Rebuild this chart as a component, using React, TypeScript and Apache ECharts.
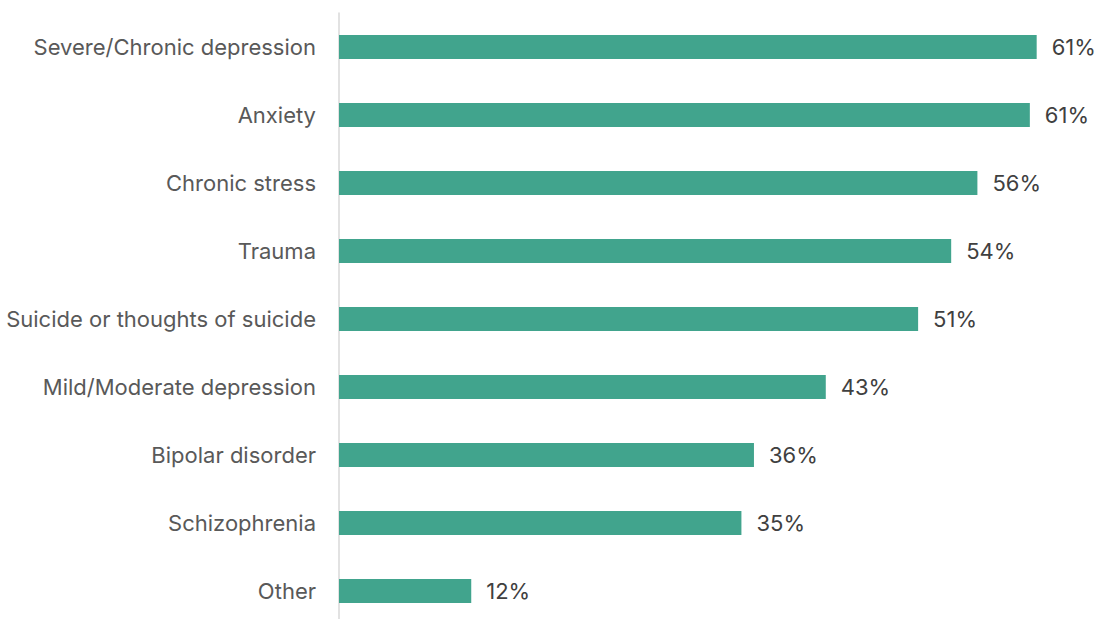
import React, { useEffect, useRef } from "react";
import * as echarts from "echarts";

const categories = [
  "Severe/Chronic depression",
  "Anxiety",
  "Chronic stress",
  "Trauma",
  "Suicide or thoughts of suicide",
  "Mild/Moderate depression",
  "Bipolar disorder",
  "Schizophrenia",
  "Other",
];
const values = [61.2, 60.6, 56.0, 53.7, 50.8, 42.7, 36.4, 35.3, 11.6];
const labels = ["61%", "61%", "56%", "54%", "51%", "43%", "36%", "35%", "12%"];

export default function App() {
  const ref = useRef<HTMLDivElement>(null);
  useEffect(() => {
    document.body.style.margin = "0";
    const chart = echarts.init(ref.current!, null, { renderer: "svg" });
    chart.setOption({
      animation: false,
      grid: {
        left: 339,
        top: 13,
        right: 21,
        bottom: -6,
        containLabel: false,
        outerBoundsMode: "none",
      },
      xAxis: {
        type: "value",
        min: 0,
        max: 65,
        show: false,
      },
      yAxis: {
        type: "category",
        data: categories,
        inverse: true,
        axisLine: { show: true, lineStyle: { color: "#d9d9d9", width: 1.5 } },
        axisTick: { show: false },
        axisLabel: {
          color: "#595959",
          fontSize: 22,
          fontFamily: "Inter",
          margin: 23,
        },
      },
      series: [
        {
          type: "bar",
          data: values,
          barWidth: 24,
          itemStyle: { color: "#41A48D" },
          label: {
            show: true,
            position: "right",
            distance: 15,
            color: "#404040",
            fontSize: 22,
            fontFamily: "Inter",
            formatter: (p: any) => labels[p.dataIndex],
          },
        },
      ],
    });
    return () => chart.dispose();
  }, []);
  return <div ref={ref} style={{ width: 1101, height: 619 }} />;
}
